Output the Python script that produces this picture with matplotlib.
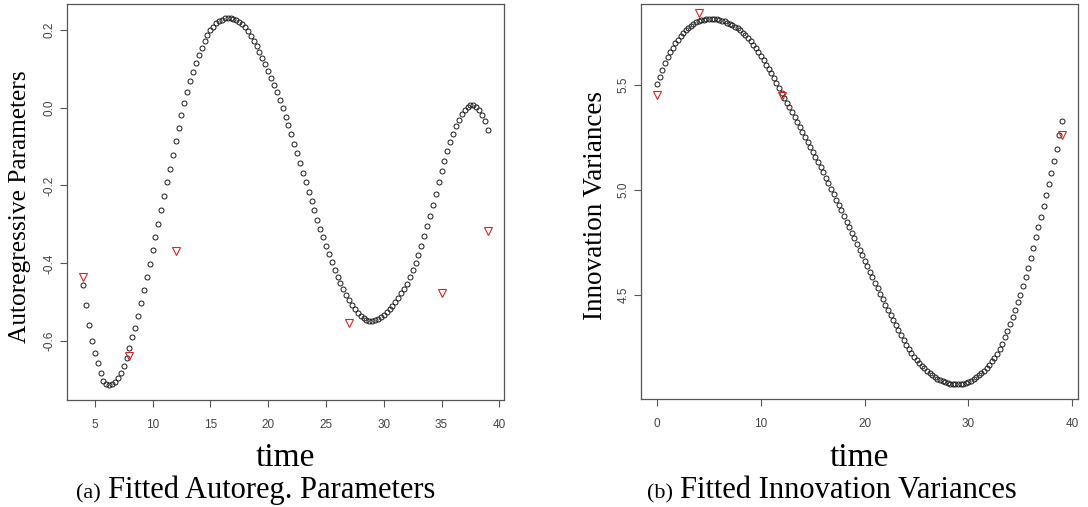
import numpy as np
import matplotlib
matplotlib.use("Agg")
import matplotlib.pyplot as plt

# ---------------- data ----------------
# Panel (a): fitted autoregressive parameter, time 4..39 in steps of 0.25
ar_fit = [
    -0.455, -0.508, -0.558, -0.599,
    -0.631, -0.655, -0.682, -0.701,
    -0.709, -0.712, -0.711, -0.705,
    -0.695, -0.682, -0.664, -0.643,
    -0.617, -0.590, -0.565, -0.534,
    -0.502, -0.469, -0.436, -0.401,
    -0.367, -0.333, -0.299, -0.264,
    -0.228, -0.192, -0.157, -0.121,
    -0.087, -0.053, -0.020, 0.011,
    0.040, 0.067, 0.091, 0.114,
    0.135, 0.154, 0.171, 0.186,
    0.198, 0.208, 0.216, 0.222,
    0.226, 0.229, 0.230, 0.230,
    0.228, 0.225, 0.220, 0.214,
    0.206, 0.196, 0.184, 0.171,
    0.157, 0.142, 0.127, 0.111,
    0.094, 0.077, 0.059, 0.040,
    0.020, -0.001, -0.023, -0.046,
    -0.069, -0.093, -0.117, -0.142,
    -0.167, -0.192, -0.216, -0.240,
    -0.264, -0.288, -0.311, -0.333,
    -0.355, -0.376, -0.397, -0.416,
    -0.434, -0.451, -0.467, -0.482,
    -0.495, -0.507, -0.518, -0.527,
    -0.535, -0.541, -0.545, -0.547,
    -0.547, -0.546, -0.543, -0.539,
    -0.533, -0.526, -0.518, -0.509,
    -0.500, -0.489, -0.477, -0.465,
    -0.452, -0.436, -0.418, -0.399,
    -0.378, -0.355, -0.331, -0.305,
    -0.278, -0.250, -0.221, -0.192,
    -0.164, -0.137, -0.112, -0.089,
    -0.067, -0.048, -0.031, -0.017,
    -0.006, 0.002, 0.006, 0.006,
    0.002, -0.006, -0.018, -0.035,
    -0.058,
]
ar_time_start, ar_time_end = 4, 39

# Panel (a): raw estimates (red triangles)
ar_raw_time = [4, 8, 12, 27, 35, 39]
ar_raw = [-0.435, -0.639, -0.369, -0.554, -0.477, -0.317]

# Panel (b): fitted innovation variance, time 0..39 in steps of 0.25
var_fit = [
    5.505, 5.540, 5.572, 5.603,
    5.631, 5.655, 5.678, 5.698,
    5.716, 5.732, 5.747, 5.760,
    5.772, 5.782, 5.791, 5.798,
    5.804, 5.808, 5.811, 5.813,
    5.814, 5.815, 5.814, 5.812,
    5.810, 5.806, 5.802, 5.796,
    5.790, 5.784, 5.777, 5.769,
    5.761, 5.749, 5.736, 5.722,
    5.707, 5.691, 5.674, 5.656,
    5.637, 5.617, 5.597, 5.576,
    5.555, 5.533, 5.510, 5.487,
    5.463, 5.440, 5.416, 5.393,
    5.369, 5.346, 5.322, 5.299,
    5.275, 5.252, 5.228, 5.204,
    5.180, 5.156, 5.132, 5.108,
    5.084, 5.058, 5.033, 5.007,
    4.981, 4.955, 4.929, 4.903,
    4.876, 4.850, 4.823, 4.797,
    4.770, 4.744, 4.717, 4.691,
    4.664, 4.638, 4.611, 4.585,
    4.558, 4.532, 4.506, 4.480,
    4.455, 4.430, 4.405, 4.380,
    4.356, 4.332, 4.309, 4.286,
    4.264, 4.243, 4.223, 4.207,
    4.192, 4.178, 4.164, 4.152,
    4.140, 4.130, 4.120, 4.111,
    4.103, 4.097, 4.091, 4.086,
    4.082, 4.079, 4.077, 4.076,
    4.076, 4.077, 4.079, 4.083,
    4.087, 4.093, 4.100, 4.109,
    4.118, 4.129, 4.141, 4.155,
    4.169, 4.185, 4.203, 4.222,
    4.243, 4.270, 4.300, 4.330,
    4.362, 4.395, 4.430, 4.466,
    4.503, 4.542, 4.585, 4.631,
    4.678, 4.726, 4.775, 4.824,
    4.873, 4.923, 4.975, 5.028,
    5.082, 5.138, 5.197, 5.262,
    5.330,
]
var_time_start, var_time_end = 0, 39

var_raw_time = [0, 4, 12, 39]
var_raw = [5.452, 5.843, 5.446, 5.262]

ar_xticks = [5, 10, 15, 20, 25, 30, 35, 40]
ar_yticks = [-0.6, -0.4, -0.2, 0.0, 0.2]
var_xticks = [0, 10, 20, 30, 40]
var_yticks = [4.5, 5.0, 5.5]

# ---------------- figure ----------------
W, H = 1088, 507
fig = plt.figure(figsize=(W / 100, H / 100), dpi=100)
fig.patch.set_facecolor("white")

SANS = ["Liberation Sans", "DejaVu Sans"]
SERIF = ["Liberation Serif", "DejaVu Serif"]
TICK_C = "#444444"
SPINE_C = "#555555"


def px_axes(x0, y0, x1, y1):
    return fig.add_axes([x0 / W, 1 - y1 / H, (x1 - x0) / W, (y1 - y0) / H])


def style(ax, xticks, yticks, ylabels):
    for s in ax.spines.values():
        s.set_color(SPINE_C)
        s.set_linewidth(0.9)
    ax.set_xticks(xticks)
    ax.set_xticklabels([str(t) for t in xticks], fontfamily=SANS, fontsize=8.5, color=TICK_C)
    ax.set_yticks(yticks)
    ax.set_yticklabels(ylabels, fontfamily=SANS, fontsize=8.5, color=TICK_C,
                       rotation=90, va="center")
    ax.tick_params(axis="both", direction="out", length=5, width=0.8, color=SPINE_C)
    ax.tick_params(axis="x", pad=9)
    ax.tick_params(axis="y", pad=3)


def draw(ax, t0, t1, fit, raw_t, raw_v):
    t = np.linspace(t0, t1, len(fit))
    ax.plot(t, fit, linestyle="none", marker="o", markersize=3.6,
            markerfacecolor="none", markeredgecolor="#1a1a1a", markeredgewidth=0.7)
    ax.plot(raw_t, raw_v, linestyle="none", marker="v", markersize=5.5,
            markerfacecolor="none", markeredgecolor="#dd2222", markeredgewidth=0.8)


# Panel (a)
axa = px_axes(67, 4, 504, 400)
draw(axa, ar_time_start, ar_time_end, ar_fit, ar_raw_time, ar_raw)
axa.set_xlim(2.6, 40.4)
axa.set_ylim(-0.751, 0.266)
style(axa, ar_xticks, ar_yticks, ["-0.6", "-0.4", "-0.2", "0.0", "0.2"])

# Panel (b)
axb = px_axes(641, 4, 1078, 399)
draw(axb, var_time_start, var_time_end, var_fit, var_raw_time, var_raw)
axb.set_xlim(-1.56, 40.56)
axb.set_ylim(4.006, 5.885)
style(axb, var_xticks, var_yticks, ["4.5", "5.0", "5.5"])

# Axis titles and captions
fig.text(20 / W, 1 - 207 / H, "Autoregressive Parameters", rotation=90,
         ha="center", va="center", fontfamily=SERIF, fontsize=18.3)
fig.text(596 / W, 1 - 205 / H, "Innovation Variances", rotation=90,
         ha="center", va="center", fontfamily=SERIF, fontsize=19.5)

fig.text(285.5 / W, 1 - 466 / H, "time", ha="center", va="baseline",
         fontfamily=SERIF, fontsize=24)
fig.text(859.5 / W, 1 - 466 / H, "time", ha="center", va="baseline",
         fontfamily=SERIF, fontsize=24)

fig.text(101 / W, 1 - 498 / H, "(a)", ha="right", va="baseline",
         fontfamily=SERIF, fontsize=16)
fig.text(108 / W, 1 - 498 / H, "Fitted Autoreg. Parameters", ha="left", va="baseline",
         fontfamily=SERIF, fontsize=22)
fig.text(673 / W, 1 - 498 / H, "(b)", ha="right", va="baseline",
         fontfamily=SERIF, fontsize=16)
fig.text(680 / W, 1 - 498 / H, "Fitted Innovation Variances", ha="left", va="baseline",
         fontfamily=SERIF, fontsize=22)

fig.savefig("out.png", dpi=100, facecolor="white")
